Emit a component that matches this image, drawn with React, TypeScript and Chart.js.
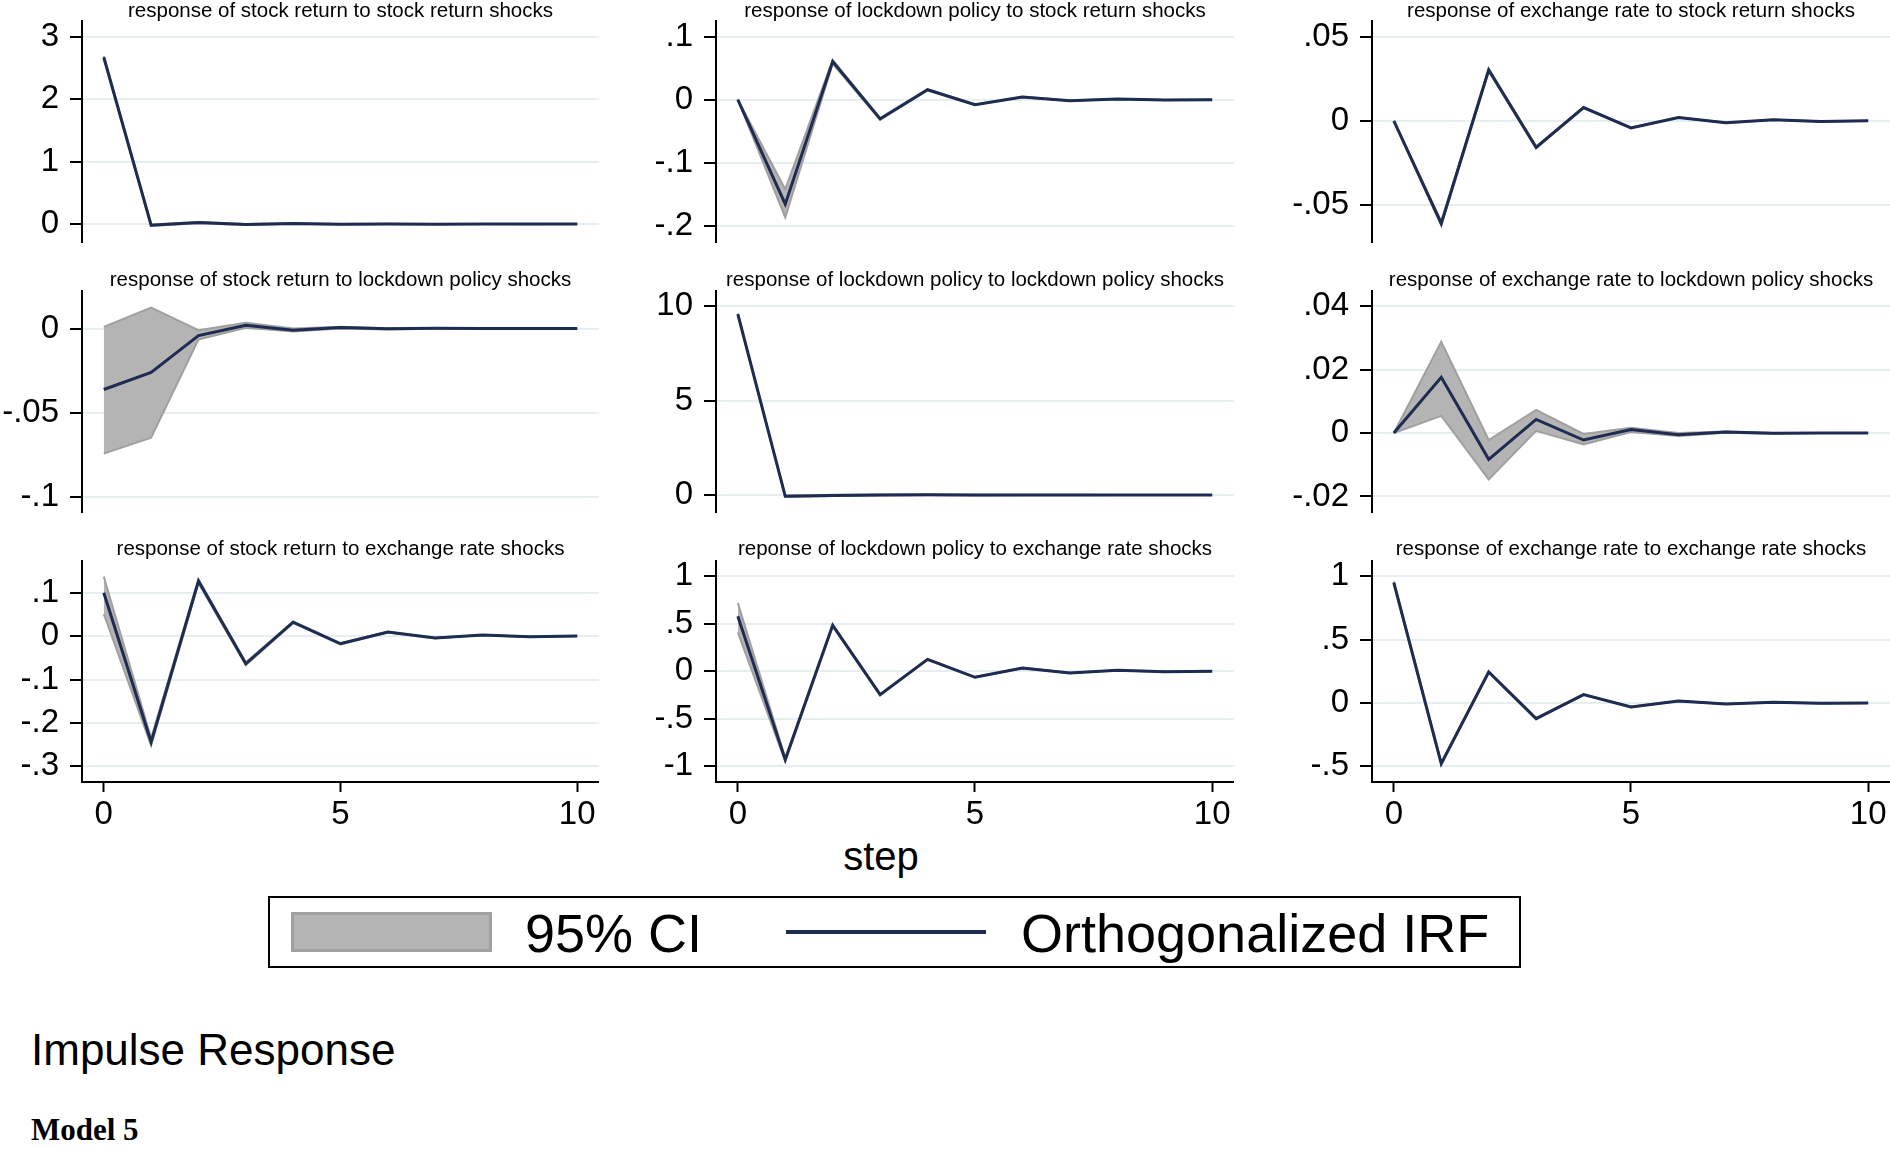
import React, { useEffect, useRef } from "react";
import { Chart, registerables } from "chart.js";

Chart.register(...registerables);

// ---------------- data ----------------
const steps = [0, 1, 2, 3, 4, 5, 6, 7, 8, 9, 10];
const xTickValues = [0, 5, 10];
const xTickLabels = ["0", "5", "10"];

const panelTitles = [
  "response of stock return to stock return shocks",
  "response of lockdown policy to stock return shocks",
  "response of exchange rate to stock return shocks",
  "response of stock return to lockdown policy shocks",
  "response of lockdown policy to lockdown policy shocks",
  "response of exchange rate to lockdown policy shocks",
  "response of stock return to exchange rate shocks",
  "reponse of lockdown policy to exchange rate shocks",
  "response of exchange rate to exchange rate shocks",
];

// stock return <- stock return
const irf1 = [2.67, -0.018, 0.025, -0.008, 0.008, -0.004, 0.003, -0.001, 0.001, 0.0, 0.0];
const up1 = [2.685, -0.005, 0.035, 0.0, 0.013, 0.0, 0.005, 0.0, 0.002, 0.001, 0.0];
const lo1 = [2.655, -0.03, 0.015, -0.016, 0.003, -0.008, 0.001, -0.002, 0.0, -0.001, 0.0];
const yTicks1 = [0, 1, 2, 3];
const yLabels1 = ["0", "1", "2", "3"];

// lockdown policy <- stock return
const irf2 = [0, -0.166, 0.0605, -0.0305, 0.0158, -0.0079, 0.0042, -0.0016, 0.001, -0.0005, 0];
const up2 = [0, -0.142, 0.063, -0.029, 0.0165, -0.0074, 0.0045, -0.0014, 0.0011, -0.0004, 0];
const lo2 = [0, -0.187, 0.057, -0.032, 0.015, -0.0084, 0.0039, -0.0018, 0.0009, -0.0006, 0];
const yTicks2 = [-0.2, -0.1, 0, 0.1];
const yLabels2 = ["-.2", "-.1", "0", ".1"];

// exchange rate <- stock return
const irf3 = [0, -0.061, 0.0302, -0.0158, 0.0079, -0.0042, 0.002, -0.0012, 0.0006, -0.0004, 0];
const up3 = [0, -0.0598, 0.0309, -0.0153, 0.0081, -0.004, 0.0021, -0.0011, 0.0006, -0.0003, 0];
const lo3 = [0, -0.0622, 0.0295, -0.0163, 0.0077, -0.0044, 0.0019, -0.0013, 0.0006, -0.0005, 0];
const yTicks3 = [-0.05, 0, 0.05];
const yLabels3 = ["-.05", "0", ".05"];

// stock return <- lockdown policy
const irf4 = [-0.0362, -0.0261, -0.0042, 0.002, -0.001, 0.0006, -0.0002, 0.0001, 0, 0, 0];
const up4 = [0.001, 0.0125, -0.001, 0.0034, 0.0, 0.001, 0.0001, 0.0002, 0.0001, 0, 0];
const lo4 = [-0.0743, -0.0648, -0.0065, 0.0004, -0.0017, 0.0, -0.0005, -0.0001, -0.0001, 0, 0];
const yTicks4 = [-0.1, -0.05, 0];
const yLabels4 = ["-.1", "-.05", "0"];

// lockdown policy <- lockdown policy
const irf5 = [9.58, -0.07, -0.02, 0.0, 0.01, 0.0, 0.0, 0.0, 0.0, 0.0, 0.0];
const up5 = [9.62, -0.03, 0.01, 0.03, 0.03, 0.02, 0.01, 0.01, 0.0, 0.0, 0.0];
const lo5 = [9.54, -0.11, -0.05, -0.03, -0.01, -0.02, -0.01, -0.01, 0.0, 0.0, 0.0];
const yTicks5 = [0, 5, 10];
const yLabels5 = ["0", "5", "10"];

// exchange rate <- lockdown policy
const irf6 = [0, 0.0176, -0.0083, 0.0043, -0.0022, 0.0011, -0.0005, 0.0003, -0.0001, 0, 0];
const up6 = [0, 0.0288, -0.0022, 0.0073, -0.0003, 0.0017, 0.0, 0.0005, 0.0, 0, 0];
const lo6 = [0, 0.0054, -0.0146, 0.0007, -0.0036, 0.0003, -0.0009, 0.0001, -0.0002, 0, 0];
const yTicks6 = [-0.02, 0, 0.02, 0.04];
const yLabels6 = ["-.02", "0", ".02", ".04"];

// stock return <- exchange rate
const irf7 = [0.1, -0.244, 0.127, -0.0637, 0.032, -0.0176, 0.0092, -0.0046, 0.0023, -0.0015, 0];
const up7 = [0.137, -0.235, 0.131, -0.06, 0.034, -0.016, 0.01, -0.004, 0.0026, -0.0012, 0];
const lo7 = [0.051, -0.252, 0.122, -0.067, 0.03, -0.019, 0.0084, -0.005, 0.002, -0.0018, 0];
const yTicks7 = [-0.3, -0.2, -0.1, 0, 0.1];
const yLabels7 = ["-.3", "-.2", "-.1", "0", ".1"];

// lockdown policy <- exchange rate
const irf8 = [0.579, -0.93, 0.484, -0.246, 0.126, -0.063, 0.035, -0.0175, 0.01, -0.004, 0];
const up8 = [0.72, -0.91, 0.49, -0.24, 0.13, -0.06, 0.037, -0.016, 0.011, -0.003, 0.001];
const lo8 = [0.41, -0.95, 0.475, -0.252, 0.122, -0.066, 0.033, -0.019, 0.009, -0.005, -0.001];
const yTicks8 = [-1, -0.5, 0, 0.5, 1];
const yLabels8 = ["-1", "-.5", "0", ".5", "1"];

// exchange rate <- exchange rate
const irf9 = [0.95, -0.479, 0.245, -0.124, 0.066, -0.0316, 0.016, -0.008, 0.005, -0.003, 0];
const up9 = [0.96, -0.47, 0.25, -0.12, 0.068, -0.03, 0.017, -0.007, 0.0055, -0.0025, 0];
const lo9 = [0.94, -0.488, 0.24, -0.128, 0.064, -0.033, 0.015, -0.009, 0.0045, -0.0035, 0];
const yTicks9 = [-0.5, 0, 0.5, 1];
const yLabels9 = ["-.5", "0", ".5", "1"];

const yMins = [-0.287, -0.226, -0.072, -0.109, -0.9, -0.0249, -0.336, -1.165, -0.624];
const yMaxs = [3.25, 0.125, 0.0593, 0.0223, 10.81, 0.0448, 0.173, 1.161, 1.121];

const legendLabels = ["95% CI", "Orthogonalized IRF"];
const xAxisTitle = "step";
const figureTitle = "Impulse Response";
const noteText = "Model 5";

// ---------------- styling / layout ----------------
const FONT = "'Liberation Sans', Arial, Helvetica, sans-serif";
const IRF_COLOR = "#1f2c52";
const CI_FILL = "#b4b4b4";
const CI_EDGE = "#a0a0a0";
const GRID_COLOR = "#e6eef0";

const COL_AXIS_X = [82, 716, 1372];
const COL_RIGHT = [599, 1234, 1890];
const ROW_TOP = [0, 270, 540];
const TITLE_Y = [11.5, 10.5, 9.5];
const Y_AXIS_W = 82;
const PLOT_TOP = 21;
const PLOT_BOTTOM = 242;
const X_AXIS_H = 48;
const TICK_FONT = 33;

const panels = [
  { irf: irf1, up: up1, lo: lo1, yt: yTicks1, yl: yLabels1 },
  { irf: irf2, up: up2, lo: lo2, yt: yTicks2, yl: yLabels2 },
  { irf: irf3, up: up3, lo: lo3, yt: yTicks3, yl: yLabels3 },
  { irf: irf4, up: up4, lo: lo4, yt: yTicks4, yl: yLabels4 },
  { irf: irf5, up: up5, lo: lo5, yt: yTicks5, yl: yLabels5 },
  { irf: irf6, up: up6, lo: lo6, yt: yTicks6, yl: yLabels6 },
  { irf: irf7, up: up7, lo: lo7, yt: yTicks7, yl: yLabels7 },
  { irf: irf8, up: up8, lo: lo8, yt: yTicks8, yl: yLabels8 },
  { irf: irf9, up: up9, lo: lo9, yt: yTicks9, yl: yLabels9 },
].map((p, i) => ({ ...p, title: panelTitles[i], min: yMins[i], max: yMaxs[i] }));

const titlePlugin = {
  id: "panelTitle",
  afterDraw(chart: any, _args: any, opts: any) {
    const { ctx, chartArea } = chart;
    ctx.save();
    ctx.font = `20.5px ${FONT}`;
    ctx.fillStyle = "#000";
    ctx.textAlign = "center";
    ctx.textBaseline = "middle";
    ctx.fillText(opts.text, (chartArea.left + chartArea.right) / 2, opts.y);
    ctx.restore();
  },
};

function Panel({ idx }: { idx: number }) {
  const ref = useRef<HTMLCanvasElement>(null);
  const p = panels[idx];
  const col = idx % 3;
  const row = Math.floor(idx / 3);
  const isBottom = row === 2;
  const left = COL_AXIS_X[col] - Y_AXIS_W;
  const width = COL_RIGHT[col] - left;
  const height = isBottom ? PLOT_BOTTOM + X_AXIS_H : PLOT_BOTTOM + 2;

  useEffect(() => {
    const toPts = (arr: number[]) => steps.map((s, i) => ({ x: s, y: arr[i] }));
    const chart = new Chart(ref.current as HTMLCanvasElement, {
      type: "line",
      data: {
        datasets: [
          { label: "irf", data: toPts(p.irf), borderColor: IRF_COLOR, borderWidth: 3, pointRadius: 0, fill: false, order: 0, tension: 0 },
          { label: "up", data: toPts(p.up), borderColor: CI_EDGE, borderWidth: 2, pointRadius: 0, fill: false, order: 1, tension: 0 },
          { label: "lo", data: toPts(p.lo), borderColor: CI_EDGE, borderWidth: 2, pointRadius: 0, fill: "-1", backgroundColor: CI_FILL, order: 1, tension: 0 },
        ],
      } as any,
      options: {
        animation: false,
        responsive: false,
        maintainAspectRatio: false,
        events: [],
        layout: { padding: { top: PLOT_TOP, bottom: isBottom ? 0 : 2, left: 0, right: 0 } },
        plugins: {
          legend: { display: false },
          tooltip: { enabled: false },
          panelTitle: { text: p.title, y: TITLE_Y[row] },
        } as any,
        scales: {
          x: {
            type: "linear",
            min: -0.46,
            max: 10.46,
            display: isBottom,
            offset: false,
            afterBuildTicks: (a: any) => {
              a.ticks = xTickValues.map((v) => ({ value: v }));
            },
            afterFit: (a: any) => {
              a.height = isBottom ? X_AXIS_H : 0;
              a.paddingLeft = 0;
              a.paddingRight = 0;
            },
            grid: { drawOnChartArea: false, drawTicks: true, tickLength: 10, tickColor: "#000", tickWidth: 2 },
            border: { display: true, color: "#000", width: 2 },
            ticks: {
              autoSkip: false,
              maxRotation: 0,
              minRotation: 0,
              padding: 3,
              color: "#000",
              font: { size: TICK_FONT, family: FONT },
              callback: (v: any) => {
                const k = xTickValues.indexOf(v);
                return k >= 0 ? xTickLabels[k] : "";
              },
            },
          },
          y: {
            type: "linear",
            min: p.min,
            max: p.max,
            afterBuildTicks: (a: any) => {
              a.ticks = p.yt.map((v) => ({ value: v }));
            },
            afterFit: (a: any) => {
              a.width = Y_AXIS_W;
              a.paddingTop = 0;
              a.paddingBottom = 0;
            },
            grid: { color: GRID_COLOR, lineWidth: 2, drawTicks: true, tickLength: 12, tickColor: "#000", tickWidth: 2 },
            border: { display: true, color: "#000", width: 2 },
            ticks: {
              autoSkip: false,
              padding: 11,
              color: "#000",
              font: { size: TICK_FONT, family: FONT },
              callback: (v: any) => {
                const k = p.yt.indexOf(v);
                return k >= 0 ? p.yl[k] : "";
              },
            },
          },
        } as any,
      },
      plugins: [titlePlugin as any],
    });
    return () => chart.destroy();
  }, []);

  return (
    <canvas
      ref={ref}
      width={width}
      height={height}
      style={{ position: "absolute", left, top: ROW_TOP[row], width, height }}
    />
  );
}

export default function App() {
  const abs = (s: React.CSSProperties): React.CSSProperties => ({ position: "absolute", lineHeight: 1, whiteSpace: "nowrap", ...s });
  return (
    <div style={{ position: "absolute", left: 0, top: 0, width: 1890, height: 1149, background: "#fff", overflow: "hidden", fontFamily: FONT, color: "#000" }}>
      {panels.map((_, i) => (
        <Panel key={i} idx={i} />
      ))}
      <div style={abs({ left: 781, width: 200, top: 836, textAlign: "center", fontSize: 40 })}>{xAxisTitle}</div>
      <div style={{ position: "absolute", left: 268, top: 896, width: 1253, height: 72, border: "2px solid #000", boxSizing: "border-box" }} />
      <div style={{ position: "absolute", left: 291, top: 912, width: 201, height: 40, background: CI_FILL, border: `3px solid ${CI_EDGE}`, boxSizing: "border-box" }} />
      <div style={abs({ left: 525, top: 906, fontSize: 54 })}>{legendLabels[0]}</div>
      <div style={{ position: "absolute", left: 786, top: 930, width: 200, height: 4, background: IRF_COLOR }} />
      <div style={abs({ left: 1021, top: 906, fontSize: 54 })}>{legendLabels[1]}</div>
      <div style={abs({ left: 31, top: 1028, fontSize: 44 })}>{figureTitle}</div>
      <div style={abs({ left: 31, top: 1114, fontSize: 31, fontWeight: "bold", fontFamily: "'Liberation Serif', 'Times New Roman', serif" })}>{noteText}</div>
    </div>
  );
}
